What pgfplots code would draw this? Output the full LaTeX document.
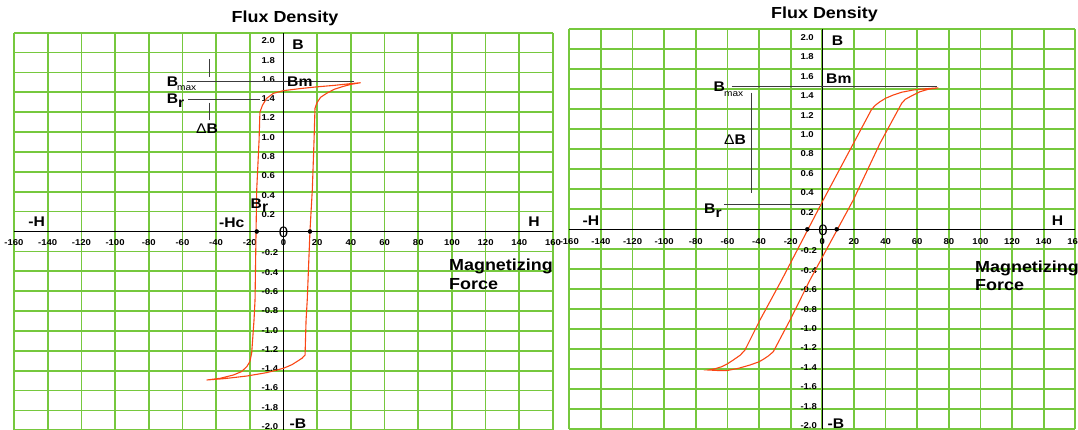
\documentclass[border=0pt]{standalone}
\usepackage{pgfplots}
\pgfplotsset{compat=1.18}
\usepackage{fontspec}
\setmainfont{Liberation Sans}
\newfontfamily\lab{Liberation Sans}[FakeStretch=1.12]
\definecolor{gridgreen}{RGB}{118,200,62}
\definecolor{loopred}{RGB}{250,70,20}
\definecolor{annot}{RGB}{60,60,60}
\pgfplotsset{
  hyst/.style={
    scale only axis,
    xmin=-160,xmax=160,ymin=-2,ymax=2,
    axis lines=middle,
    axis line style={-, black, line width=0.8pt},
    xtick={-160,-140,-120,-100,-80,-60,-40,-20,0,20,40,60,80,100,120,140,160},
    xticklabels={-160,-140,-120,-100,-80,-60,-40,-20,0,20,40,60,80,100,120,140,160},
    ytick={-2,-1.8,-1.6,-1.4,-1.2,-1,-0.8,-0.6,-0.4,-0.2,0,0.2,0.4,0.6,0.8,1,1.2,1.4,1.6,1.8,2},
    yticklabels={},
    extra y ticks={1.918,1.724,1.530,1.336,1.142,0.948,0.754,0.560,0.366,0.172,-0.216,-0.410,-0.604,-0.798,-0.992,-1.186,-1.380,-1.574,-1.768,-1.962},
    extra y tick labels={2.0,1.8,1.6,1.4,1.2,1.0,0.8,0.6,0.4,0.2,-0.2,-0.4,-0.6,-0.8,-1.0,-1.2,-1.4,-1.6,-1.8,-2.0},
    extra y tick style={grid=none},
    hide obscured x ticks=false,
    grid=major,
    grid style={gridgreen, line width=1.7pt},
    major tick length=0pt,
    tick label style={font=\lab\bfseries\fontsize{8.5}{10}\selectfont, inner sep=0pt},
    yticklabel style={anchor=west, xshift=-22pt},
    clip=false,
  }
}
\begin{document}
\begin{tikzpicture}
% ---------------- left panel ----------------
\begin{axis}[hyst, width=539pt, height=397.6pt, at={(14pt,-1.3pt)}, anchor=south west,
  xticklabel style={anchor=center, yshift=-11pt}]
\addplot[loopred, line width=1.1pt] coordinates {
 (45.8,1.497) (39.5,1.487) (30,1.47) (19.7,1.455) (10,1.438) (0,1.417) (-6,1.39) (-10,1.34)
 (-12.5,1.27) (-14,1.2) (-14.5,0.92) (-15.9,0.42) (-16.3,0) (-16.9,-0.69) (-17.5,-0.89)
 (-18.9,-1.225) (-20,-1.31) (-21.8,-1.36) (-25,-1.41) (-29.8,-1.444) (-37.7,-1.477) (-45.6,-1.494)
 (-35,-1.48) (-21.8,-1.454) (-10,-1.42) (0,-1.376) (5,-1.34) (7.8,-1.31) (11,-1.275) (12.8,-1.242)
 (13.4,-0.89) (14.1,-0.69) (15.7,0) (17.1,0.418) (18.1,0.9) (18.7,1.24) (19.7,1.29) (22,1.35)
 (25.6,1.39) (30,1.43) (35.5,1.46) (40,1.48) (45.8,1.497)};
\addplot[only marks, mark=*, mark size=2pt, black] coordinates {(-15.9,0) (15.7,0)};
\draw[annot, line width=1pt] (-57.5,1.514) -- (42,1.514);
\draw[annot, line width=1pt] (-56.5,1.333) -- (-14,1.333);
\draw[annot, line width=1pt] (-44,1.732) -- (-44,1.551);
\draw[annot, line width=1pt] (-44,1.296) -- (-44,1.122);
\end{axis}
% ---------------- right panel ----------------
\begin{axis}[hyst, width=506pt, height=400pt, at={(569.3pt,-0.3pt)}, anchor=south west,
  xticklabel style={anchor=center, yshift=-12.2pt}]
\addplot[loopred, line width=1.1pt] coordinates {
 (73.4,1.415) (65,1.405) (57.5,1.393) (50,1.37) (44.9,1.343) (40,1.31) (36.5,1.276) (33.5,1.24)
 (31.2,1.2) (0.6,0.293) (-25.7,-0.507) (-39.4,-0.907) (-48.9,-1.207) (-52,-1.26) (-56.3,-1.307)
 (-60,-1.345) (-63.6,-1.374) (-68,-1.395) (-72.1,-1.407)
 (-66,-1.412) (-60.5,-1.413) (-53,-1.39) (-45.7,-1.357) (-40,-1.325) (-37.3,-1.3) (-34,-1.265)
 (-31,-1.224) (-20.4,-0.907) (-7.8,-0.507) (19.6,0.293) (36.5,0.86) (50.2,1.26) (52.5,1.3)
 (55.5,1.326) (61.8,1.376) (67,1.4) (73.4,1.415)};
\addplot[only marks, mark=*, mark size=2pt, black] coordinates {(-9.5,0) (9.1,0)};
\draw[annot, line width=1pt] (-57.3,1.426) -- (72.5,1.426);
\draw[annot, line width=1pt] (-44.6,1.366) -- (-44.6,0.36);
\draw[annot, line width=1pt] (-62.2,0.253) -- (-1.5,0.253);
\end{axis}
% ---------------- labels ----------------
\tikzset{big/.style={font=\lab\bfseries\fontsize{14}{17}\selectfont, inner sep=0pt},
         mag/.style={font=\lab\bfseries\fontsize{16}{19}\selectfont, inner sep=0pt},
         sub/.style={font=\lab\fontsize{9}{11}\selectfont, inner sep=0pt}}
% left
\node[mag, anchor=base] at (285pt,406.8pt) {Flux Density};
\node[big, anchor=base] at (298pt,379pt) {B};
\node[big, anchor=base west] at (287pt,342.3pt) {Bm};
\node[big, anchor=base west] at (166.7pt,342.3pt) {B};
\node[sub, anchor=base west] at (177pt,338.3pt) {max};
\node[big, anchor=base west] at (166.7pt,325pt) {B\raisebox{-4pt}{r}};
\node[big, anchor=base] at (207pt,295.7pt) {{\mdseries Δ}B};
\node[big, anchor=base] at (36.7pt,202.3pt) {-H};
\node[big, anchor=base] at (231.7pt,201.7pt) {-Hc};
\node[big, anchor=base west] at (250.5pt,220.7pt) {B\raisebox{-3pt}{r}};
\node[font=\lab\fontsize{15}{18}\selectfont, inner sep=0pt, anchor=base] at (283.5pt,192pt) {0};
\node[big, anchor=base] at (534pt,202.3pt) {H};
\node[mag, anchor=base west] at (449pt,159pt) {Magnetizing};
\node[mag, anchor=base west] at (449pt,139.7pt) {Force};
\node[big, anchor=base] at (298pt,0.9pt) {-B};
% right
\node[mag, anchor=base] at (824.5pt,410.7pt) {Flux Density};
\node[big, anchor=base] at (837.5pt,383pt) {B};
\node[big, anchor=base west] at (826pt,345.7pt) {Bm};
\node[big, anchor=base west] at (713.3pt,337.3pt) {B};
\node[sub, anchor=base west] at (724pt,332.3pt) {max};
\node[big, anchor=base] at (735pt,284pt) {{\mdseries Δ}B};
\node[big, anchor=base west] at (704pt,215.7pt) {B\raisebox{-4pt}{r}};
\node[big, anchor=base] at (591pt,204pt) {-H};
\node[big, anchor=base] at (1057.5pt,204pt) {H};
\node[font=\lab\fontsize{15}{18}\selectfont, inner sep=0pt, anchor=base] at (823pt,194pt) {0};
\node[mag, anchor=base west] at (975pt,157pt) {Magnetizing};
\node[mag, anchor=base west] at (975pt,139pt) {Force};
\node[big, anchor=base] at (836pt,0.9pt) {-B};
\pgfresetboundingbox
\path[use as bounding box] (0,0) rectangle (1078pt,429pt);
\end{tikzpicture}
\end{document}
